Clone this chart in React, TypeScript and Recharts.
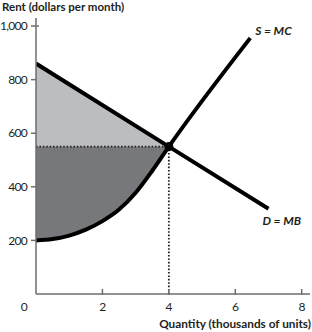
import React from "react";
import {
  ComposedChart,
  Line,
  Area,
  XAxis,
  YAxis,
  ReferenceLine,
  ReferenceDot,
} from "recharts";

const demandQty = [0, 4, 7];
const demandRent = [860, 550, 318];

const supplyQty = [0, 0.5, 1, 1.5, 2, 2.5, 3, 3.5, 4, 6.45];
const supplyRent = [200, 205, 218, 240, 272, 315, 378, 460, 550, 955];

const eqQty = 4;
const eqRent = 550;

const xTicks = [0, 2, 4, 6, 8];
const yTicks = [200, 400, 550, 600, 800, 1000];

const FONT = "Lato, 'Open Sans', sans-serif";
const TEXT = "#231f20";
const AXIS = "#6d6e71";

const demandData = demandQty.map((q, i) => ({ q, rent: demandRent[i] }));
const supplyData = supplyQty.map((q, i) => ({ q, rent: supplyRent[i] }));
const consumerData = demandQty
  .map((q, i) => ({ q, range: [eqRent, demandRent[i]] }))
  .filter((d) => d.q <= eqQty);
const producerData = supplyQty
  .map((q, i) => ({ q, range: [supplyRent[i], eqRent] }))
  .filter((d) => d.q <= eqQty);

const fmt = (v: number) => v.toLocaleString("en-US");

const XTick = (props: any) => {
  const { x, y, payload } = props;
  const isZero = payload.value === 0;
  return (
    <g>
      {!isZero && (
        <line x1={x} x2={x} y1={y - 5} y2={y + 1} stroke={AXIS} strokeWidth={1.5} />
      )}
      <text
        x={isZero ? x - 12 : x}
        y={y + 17}
        textAnchor="middle"
        fontFamily={FONT}
        fontSize={12}
        letterSpacing={-0.4}
        fill={TEXT}
      >
        {payload.value}
      </text>
    </g>
  );
};

const YTick = (props: any) => {
  const { x, y, payload } = props;
  return (
    <g>
      <line x1={x - 5} x2={x + (payload.value === 1000 ? 3 : 0)} y1={y} y2={y} stroke={AXIS} strokeWidth={1.5} />
      <text
        x={x - 9}
        y={y}
        dy="0.35em"
        textAnchor="end"
        fontFamily={FONT}
        fontSize={12}
        letterSpacing={-0.7}
        fill={TEXT}
      >
        {fmt(payload.value)}
      </text>
    </g>
  );
};

const curveLabel = (text: string, dx: number, dy: number) => (props: any) => {
  const vb = props.viewBox || {};
  return (
    <text
      x={vb.x + dx}
      y={vb.y + dy}
      fontFamily={FONT}
      fontSize={12}
      fontWeight={700}
      fontStyle="italic"
      fill={TEXT}
    >
      {text}
    </text>
  );
};

export default function App() {
  return (
    <div style={{ position: "absolute", left: 0, top: 0, width: 312, height: 332, background: "#fff" }}>
      <ComposedChart
        width={312}
        height={332}
        margin={{ top: 18, right: 2, bottom: 0, left: 0 }}
      >
        <XAxis
          type="number"
          dataKey="q"
          domain={[0, 8.25]}
          ticks={xTicks}
          tick={<XTick />}
          tickSize={0}
          tickMargin={0}
          tickLine={false}
          axisLine={{ stroke: AXIS, strokeWidth: 1.5 }}
          height={38}
          allowDataOverflow
        />
        <YAxis
          type="number"
          domain={[0, 1030]}
          ticks={yTicks}
          tick={<YTick />}
          tickSize={0}
          tickMargin={0}
          tickLine={false}
          axisLine={{ stroke: AXIS, strokeWidth: 1.5 }}
          width={36}
          allowDataOverflow
        />
        <Area
          data={consumerData}
          dataKey="range"
          type="linear"
          stroke="none"
          fill="#bcbdc0"
          fillOpacity={1}
          isAnimationActive={false}
          activeDot={false}
        />
        <Area
          data={producerData}
          dataKey="range"
          type="monotone"
          stroke="none"
          fill="#77787b"
          fillOpacity={1}
          isAnimationActive={false}
          activeDot={false}
        />
        <ReferenceLine
          segment={[{ x: 0, y: eqRent }, { x: eqQty, y: eqRent }]}
          stroke="#231f20"
          strokeWidth={1.8}
          strokeDasharray="1.6 1.8"
        />
        <ReferenceLine
          segment={[{ x: eqQty, y: 0 }, { x: eqQty, y: eqRent }]}
          stroke="#231f20"
          strokeWidth={1.8}
          strokeDasharray="1.6 1.8"
        />
        <Line
          data={supplyData}
          dataKey="rent"
          type="monotone"
          stroke="#000"
          strokeWidth={4}
          dot={false}
          activeDot={false}
          isAnimationActive={false}
        />
        <Line
          data={demandData}
          dataKey="rent"
          type="linear"
          stroke="#000"
          strokeWidth={4}
          dot={false}
          activeDot={false}
          isAnimationActive={false}
        />
        <ReferenceDot x={eqQty} y={eqRent} r={4.5} fill="#000" stroke="none" />
        <ReferenceDot
          x={supplyQty[supplyQty.length - 1]}
          y={supplyRent[supplyRent.length - 1]}
          r={0}
          stroke="none"
          fill="none"
          label={curveLabel("S = MC", 5, -3)}
        />
        <ReferenceDot
          x={demandQty[demandQty.length - 1]}
          y={demandRent[demandRent.length - 1]}
          r={0}
          stroke="none"
          fill="none"
          label={curveLabel("D = MB", -6, 16)}
        />
        <text x={2} y={11} fontFamily={FONT} fontSize={11.5} fontWeight={700} fill={TEXT}>
          Rent (dollars per month)
        </text>
        <text x={311} y={328} textAnchor="end" fontFamily={FONT} fontSize={11.8} fontWeight={700} fill={TEXT}>
          Quantity (thousands of units)
        </text>
      </ComposedChart>
    </div>
  );
}
